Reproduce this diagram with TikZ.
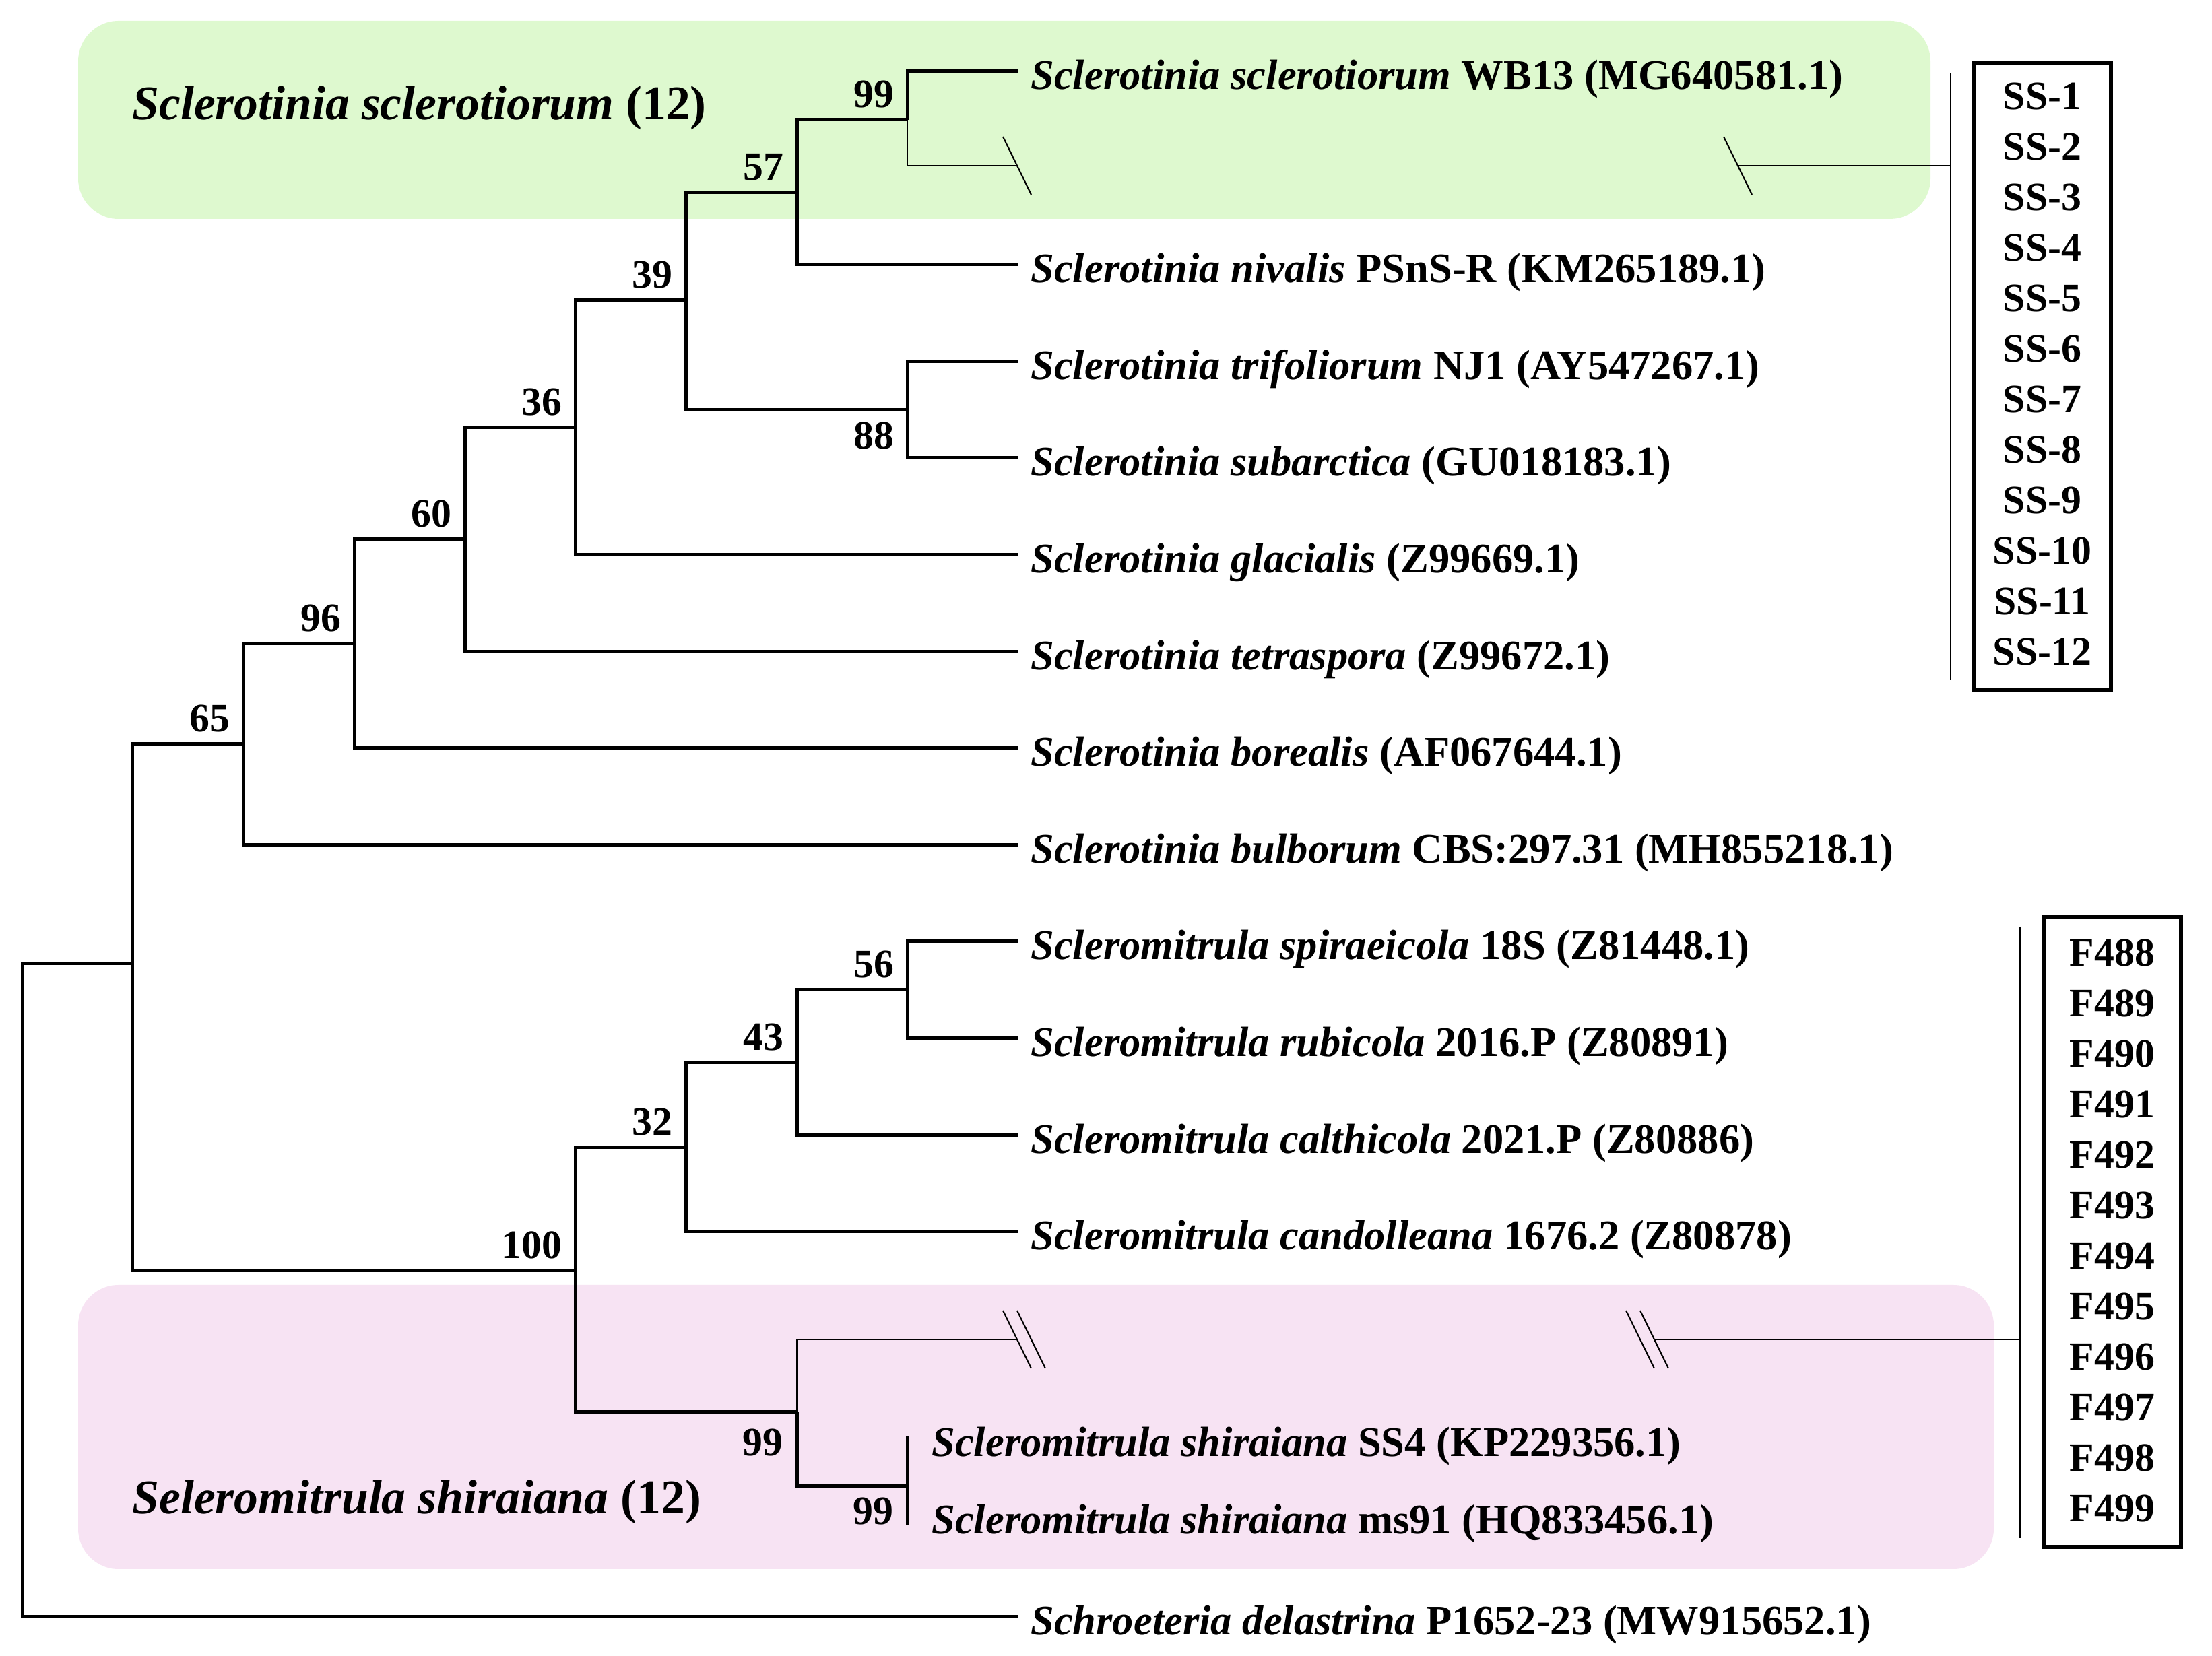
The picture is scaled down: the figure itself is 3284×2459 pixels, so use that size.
\documentclass[tikz,border=0pt]{standalone}
\usepackage{fontspec}
\setmainfont{Liberation Serif}
\usetikzlibrary{positioning}
\definecolor{ssgreen}{RGB}{222,249,207}
\definecolor{shpink}{RGB}{247,227,243}
\tikzset{
  branch/.style={line width=0.71pt},
  cutbranch/.style={line width=0.36pt},
  cutmark/.style={line width=0.3pt},
  taxon/.style={anchor=west,inner xsep=2.4pt,inner ysep=0pt,text height=9.4pt,text depth=1.74pt,font=\fontsize{8.9pt}{10.5pt}\selectfont\bfseries},
  boot/.style={inner sep=0pt,font=\fontsize{8.5pt}{10pt}\selectfont\bfseries},
  member/.style={anchor=base,inner sep=0pt,font=\fontsize{8.5pt}{10pt}\selectfont\bfseries},
  cladename/.style={anchor=base west,inner sep=0pt,font=\fontsize{10.2pt}{12pt}\selectfont\bfseries},
  listbox/.style={line width=0.85pt}
}
\begin{document}
\begin{tikzpicture}[x=0.05mm,y=-0.05mm]
\useasboundingbox (0,0) rectangle (3284,2459);
\fill[ssgreen,rounded corners=0.3cm] (116,31) rectangle (2866,325);
\fill[shpink,rounded corners=0.3cm] (116,1908) rectangle (2960,2330);
\node[cladename] (ssname) at (195,178) {\textit{Sclerotinia sclerotiorum} (12)};
\node[cladename] (shname) at (195,2248) {\textit{Seleromitrula shiraiana} (12)};
% tree nodes
\coordinate (rt) at (33,1431);
\coordinate (a) at (197,1431);
\coordinate (b65) at (361,1105);
\coordinate (b96) at (526,956);
\coordinate (b60) at (690,801);
\coordinate (b36) at (854,635);
\coordinate (b39) at (1018,446);
\coordinate (b57) at (1183,286);
\coordinate (b99) at (1347,178);
\coordinate (b88) at (1347,609);
\coordinate (b100) at (854,1887);
\coordinate (b32) at (1018,1704);
\coordinate (b43) at (1183,1578);
\coordinate (b56) at (1347,1470);
\coordinate (c99) at (1183,2097);
\coordinate (d99) at (1347,2207);
\coordinate (d99t) at (1347,2132);
\coordinate (d99b) at (1347,2265);
% leaves
\node[taxon] (wb13) at (1512,106) {\textit{Sclerotinia sclerotiorum} WB13 (MG640581.1)};
\node[taxon] (nival) at (1512,393) {\textit{Sclerotinia nivalis} PSnS-R (KM265189.1)};
\node[taxon] (trifo) at (1512,537) {\textit{Sclerotinia trifoliorum} NJ1 (AY547267.1)};
\node[taxon] (subar) at (1512,680) {\textit{Sclerotinia subarctica} (GU018183.1)};
\node[taxon] (glaci) at (1512,824) {\textit{Sclerotinia glacialis} (Z99669.1)};
\node[taxon] (tetra) at (1512,968) {\textit{Sclerotinia tetraspora} (Z99672.1)};
\node[taxon] (borea) at (1512,1111) {\textit{Sclerotinia borealis} (AF067644.1)};
\node[taxon] (bulbo) at (1512,1255) {\textit{Sclerotinia bulborum} CBS:297.31 (MH855218.1)};
\node[taxon] (spira) at (1512,1398) {\textit{Scleromitrula spiraeicola} 18S (Z81448.1)};
\node[taxon] (rubic) at (1512,1542) {\textit{Scleromitrula rubicola} 2016.P (Z80891)};
\node[taxon] (calth) at (1512,1686) {\textit{Scleromitrula calthicola} 2021.P (Z80886)};
\node[taxon] (cando) at (1512,1829) {\textit{Scleromitrula candolleana} 1676.2 (Z80878)};
\node[taxon] (shss4) at (1365,2136) {\textit{Scleromitrula shiraiana} SS4 (KP229356.1)};
\node[taxon] (shms91) at (1365,2251) {\textit{Scleromitrula shiraiana} ms91 (HQ833456.1)};
\node[taxon] (schro) at (1512,2401) {\textit{Schroeteria delastrina} P1652-23 (MW915652.1)};
% branches
\draw[branch] (a) -- (rt) |- (schro.west);
\foreach \p/\c in {a/b65,b65/b96,b96/b60,b60/b36,b36/b39,b39/b57,b57/b99,b39/b88,a/b100,b100/b32,b32/b43,b43/b56,b100/c99,c99/d99}
  \draw[branch] (\p) |- (\c);
\foreach \p/\c in {b99/wb13,b57/nival,b88/trifo,b88/subar,b36/glaci,b60/tetra,b96/borea,b65/bulbo,b56/spira,b56/rubic,b43/calth,b32/cando}
  \draw[branch] (\p) |- (\c.west);
\draw[branch] (d99t) -- (d99b);
% bootstrap values
\node[boot,above left=2.4pt and 2.6pt of b65] (n65) {65};
\node[boot,above left=2.4pt and 2.6pt of b96] (n96) {96};
\node[boot,above left=2.4pt and 2.6pt of b60] (n60) {60};
\node[boot,above left=2.4pt and 2.6pt of b36] (n36) {36};
\node[boot,above left=2.4pt and 2.6pt of b39] (n39) {39};
\node[boot,above left=2.4pt and 2.6pt of b57] (n57) {57};
\node[boot,above left=2.4pt and 2.6pt of b99] (n99) {99};
\node[boot,below left=2.4pt and 2.6pt of b88] (n88) {88};
\node[boot,above left=2.4pt and 2.6pt of b100] (n100) {100};
\node[boot,above left=2.4pt and 2.6pt of b32] (n32) {32};
\node[boot,above left=2.4pt and 2.6pt of b43] (n43) {43};
\node[boot,above left=2.4pt and 2.6pt of b56] (n56) {56};
\node[boot,below left=3.3pt and 2.8pt of c99] (m99) {99};
\node[boot,below left=2.2pt and 2.8pt of d99] (k99) {99};
% collapsed clades
\coordinate (cut1) at (1510,246);
\coordinate (cut2) at (2580,246);
\coordinate (ssbar) at (2896,246);
\draw[cutbranch] (b99) |- (cut1);
\draw[cutmark] (cut1) ++(-21,-43) -- ++(42,86);
\draw[cutmark] (cut2) ++(-21,-43) -- ++(42,86);
\draw[cutbranch] (cut2) -- (ssbar);
\draw[cutbranch] (ssbar) ++(0,-138) -- ++(0,902);
\coordinate (cut3) at (1510,1989);
\coordinate (cut4) at (2456,1989);
\coordinate (fbar) at (2999,1989);
\draw[cutbranch] (c99) |- (cut3);
\draw[cutmark] (cut3) ++(-21,-43) -- ++(42,86) (cut3) ++(0,-43) -- ++(42,86);
\draw[cutmark] (cut4) ++(-42,-43) -- ++(42,86) (cut4) ++(-21,-43) -- ++(42,86);
\draw[cutbranch] (cut4) -- (fbar);
\draw[cutbranch] (fbar) ++(0,-613) -- ++(0,908);
% isolate lists
\draw[listbox] (2931,93) rectangle (3134,1024);
\foreach \i in {1,...,12} \node[member] (ss\i) at (3032,{163+75*(\i-1)}) {SS-\i};
\draw[listbox] (3035,1361) rectangle (3238,2297);
\foreach \i in {488,...,499} \node[member] (f\i) at (3136,{1435+75*(\i-488)}) {F\i};
\end{tikzpicture}
\end{document}
